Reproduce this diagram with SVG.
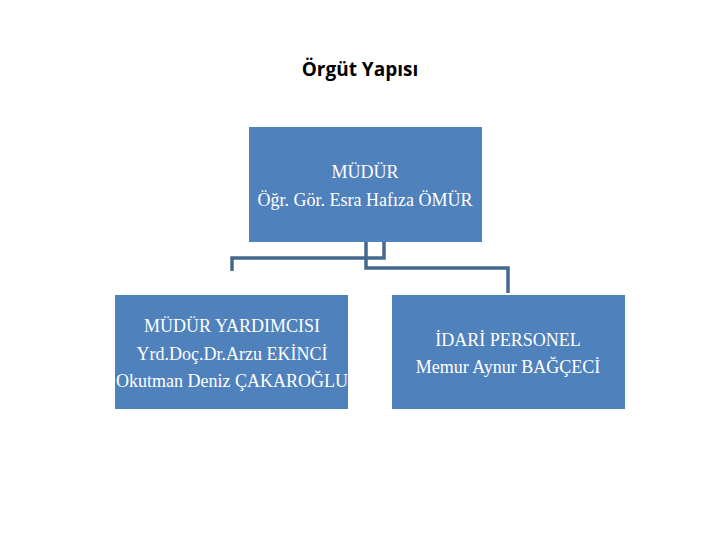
<svg xmlns="http://www.w3.org/2000/svg" width="720" height="540" viewBox="0 0 720 540">
<style>
.box{fill:#4f81bd}
.t{font-family:"Liberation Serif","Times New Roman",serif;font-size:18px;fill:#ffffff;text-anchor:middle}
.c{fill:none;stroke:#45688f;stroke-width:3.5}
.title{font-family:"Open Sans","Liberation Sans",sans-serif;font-weight:bold;font-size:19px;fill:#000;text-anchor:middle}
</style>
<rect width="720" height="540" fill="#ffffff"/>
<text class="title" x="360" y="76">Örgüt Yapısı</text>
<g id="connectors">
<polyline class="c" points="384,242 384,258 232,258 232,271"/>
<polyline class="c" points="366,242 366,268 508,268 508,293"/>
</g>
<g id="mudur">
<rect class="box" x="249" y="127" width="233" height="115"/>
<text class="t" x="365" y="178">MÜDÜR</text>
<text class="t" x="365" y="206">Öğr. Gör. Esra Hafıza ÖMÜR</text>
</g>
<g id="yardimci">
<rect class="box" x="115" y="295" width="233" height="114"/>
<text class="t" x="232" y="332">MÜDÜR YARDIMCISI</text>
<text class="t" x="232" y="360">Yrd.Doç.Dr.Arzu EKİNCİ</text>
<text class="t" x="232" y="387">Okutman Deniz ÇAKAROĞLU</text>
</g>
<g id="idari">
<rect class="box" x="392" y="295" width="233" height="114"/>
<text class="t" x="508" y="346">İDARİ PERSONEL</text>
<text class="t" x="508" y="373">Memur Aynur BAĞÇECİ</text>
</g>
</svg>
